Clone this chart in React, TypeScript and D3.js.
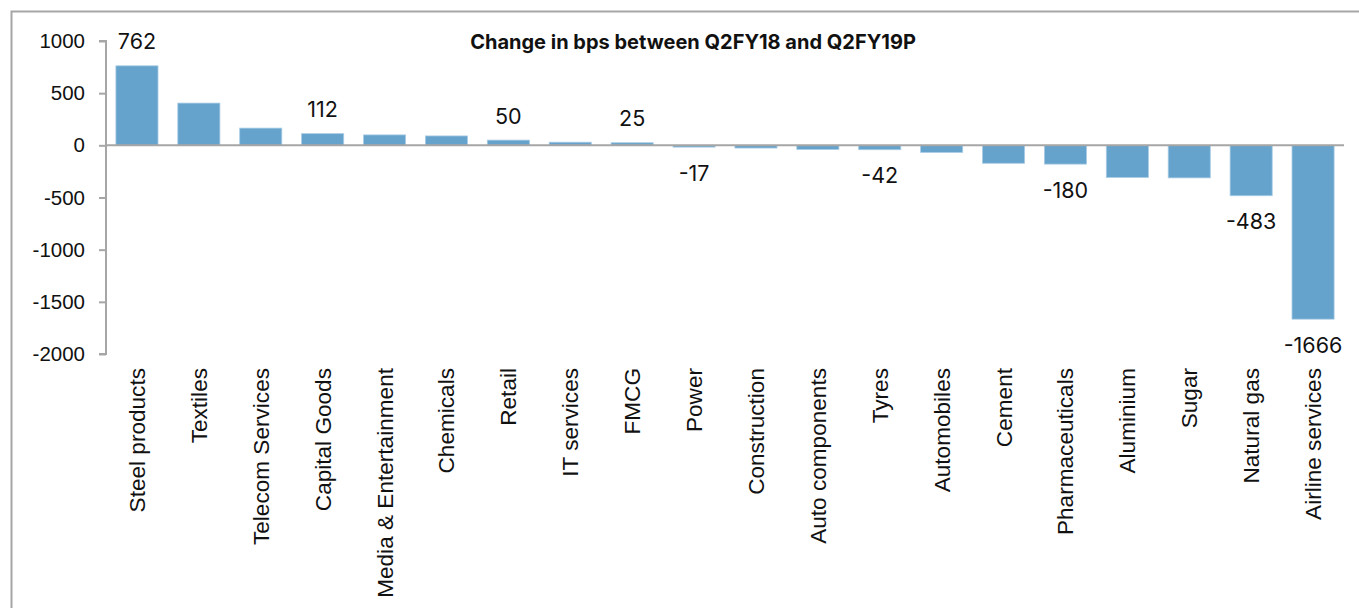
import React, { useRef, useEffect } from 'react';
import * as d3 from 'd3';

// sectors, left to right as in the chart
const categories = [
  'Steel products', 'Textiles', 'Telecom Services', 'Capital Goods', 'Media & Entertainment',
  'Chemicals', 'Retail', 'IT services', 'FMCG', 'Power', 'Construction', 'Auto components',
  'Tyres', 'Automobiles', 'Cement', 'Pharmaceuticals', 'Aluminium', 'Sugar', 'Natural gas',
  'Airline services',
];
const values = [762, 405, 165, 112, 100, 90, 50, 30, 25, -17, -26, -40, -42, -68, -172, -180, -308, -312, -483, -1666];
// only some bars carry a data label
const labels = ['762', null, null, '112', null, null, '50', null, '25', '-17', null, null, '-42', null, null, '-180', null, null, '-483', '-1666'];
const yTicks = [1000, 500, 0, -500, -1000, -1500, -2000];
const title = 'Change in bps between Q2FY18 and Q2FY19P';

const App = () => {
  const svgRef = useRef(null);

  useEffect(() => {
    const svg = d3.select(svgRef.current);
    svg.selectAll('*').remove();

    const W = 1359, H = 608;
    const gray = '#a6a6a6';
    const barColor = '#65a3cc';

    const x = d3.scaleBand().domain(categories).range([106, 1344]).paddingInner(0.32).paddingOuter(0.16);
    const y = d3.scaleLinear().domain([-2000, 1000]).range([354, 41]);

    // chart frame (runs off the right and bottom edges)
    svg.append('rect')
      .attr('x', 11.5).attr('y', 11.5)
      .attr('width', W + 20).attr('height', H + 20)
      .attr('fill', 'none').attr('stroke', gray).attr('stroke-width', 2);

    // title
    svg.append('text')
      .attr('x', 693).attr('y', 49)
      .attr('text-anchor', 'middle')
      .attr('font-family', 'Inter, "Liberation Sans", sans-serif')
      .attr('font-weight', 700)
      .attr('font-size', 20)
      .attr('fill', '#111')
      .text(title);

    // bars
    svg.append('g').selectAll('rect')
      .data(values)
      .join('rect')
      .attr('x', (d, i) => x(categories[i]))
      .attr('y', d => y(Math.max(0, d)))
      .attr('width', x.bandwidth())
      .attr('height', d => Math.abs(y(d) - y(0)))
      .attr('fill', barColor)
      .attr('stroke', '#a8cbe4')
      .attr('stroke-width', 0.8);

    // y axis
    const yAxis = d3.axisLeft(y).tickValues(yTicks).tickSize(7).tickPadding(14).tickFormat(d => String(d));
    const gy = svg.append('g').attr('transform', 'translate(106,0)').call(yAxis);
    gy.select('.domain').attr('stroke', gray).attr('stroke-width', 2).attr('d', `M-7,${y(1000)}H0V${y(-2000)}H-7`);
    gy.selectAll('.tick line').attr('stroke', gray).attr('stroke-width', 2);
    gy.selectAll('.tick text')
      .attr('font-family', '"Liberation Sans", Arial, sans-serif')
      .attr('font-size', 20.5)
      .attr('fill', '#111');

    // zero line
    svg.append('line')
      .attr('x1', 106).attr('x2', 1344)
      .attr('y1', y(0)).attr('y2', y(0))
      .attr('stroke', gray).attr('stroke-width', 2);

    // category labels, rotated
    svg.append('g').selectAll('text')
      .data(categories)
      .join('text')
      .attr('transform', d => `translate(${x(d) + x.bandwidth() / 2 + 8},368) rotate(-90)`)
      .attr('text-anchor', 'end')
      .attr('font-family', '"Liberation Sans", Arial, sans-serif')
      .attr('font-size', 22.6)
      .attr('fill', '#111')
      .text(d => d);

    // data labels
    svg.append('g').selectAll('text')
      .data(values.map((v, i) => ({ v, i, t: labels[i] })).filter(d => d.t !== null))
      .join('text')
      .attr('x', d => x(categories[d.i]) + x.bandwidth() / 2)
      .attr('y', d => d.v >= 0 ? y(d.v) - 24 : y(d.v) + 26)
      .attr('dy', '0.35em')
      .attr('text-anchor', 'middle')
      .attr('font-family', 'Inter, "Liberation Sans", sans-serif')
      .attr('font-size', 21.5)
      .attr('fill', '#111')
      .text(d => d.t);
  }, []);

  return (
    <svg ref={svgRef} width={1359} height={608}
      style={{ position: 'absolute', left: 0, top: 0, background: '#fff' }} />
  );
};

export default App;
